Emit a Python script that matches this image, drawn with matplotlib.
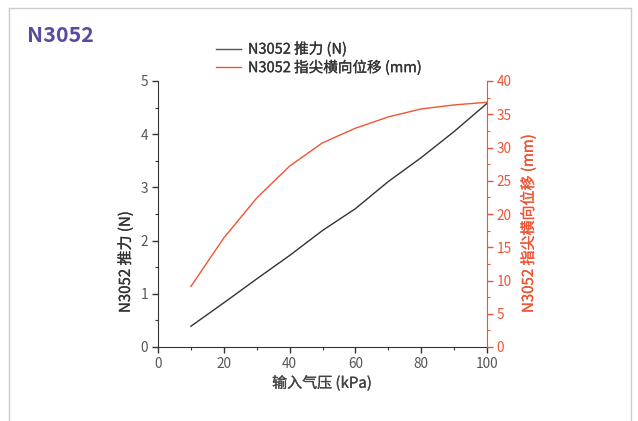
import matplotlib
matplotlib.use("Agg")
import matplotlib.pyplot as plt
import matplotlib.patheffects as pe
from matplotlib.lines import Line2D
from matplotlib.ticker import MultipleLocator

plt.rcParams['font.family'] = ['Noto Sans CJK SC', 'DejaVu Sans']

# 数据
pressure = [10, 20, 30, 40, 50, 60, 70, 80, 90, 100]
force_n = [0.39, 0.83, 1.28, 1.72, 2.19, 2.60, 3.11, 3.56, 4.05, 4.58]
disp_mm = [9.1, 16.4, 22.4, 27.2, 30.7, 32.9, 34.6, 35.8, 36.4, 36.8]

BLACK = "#333333"
RED = "#ee5535"
GRAY_TXT = "#555555"
PURPLE = "#5b4a9e"


def medium(color):
    # 模拟 Medium 字重：给常规字形加一圈细描边
    return [pe.withStroke(linewidth=0.2, foreground=color)]


fig = plt.figure(figsize=(6.38, 4.21), dpi=100)
fig.patch.set_facecolor("white")

# 外框
for xs, ys in [([9/638, 9/638], [0, 1 - 8/421]),
               ([9/638, 631/638], [1 - 8/421, 1 - 8/421]),
               ([631/638, 631/638], [1 - 8/421, 0])]:
    fig.add_artist(Line2D(xs, ys, color="#cccccc", linewidth=1.0,
                          transform=fig.transFigure))

ax = fig.add_axes([158/638, 1 - 347/421, (487 - 158)/638, (347 - 81)/421])
ax2 = ax.twinx()

l1, = ax.plot(pressure, force_n, color=BLACK, linewidth=1.0, label="N3052 推力 (N)")
l2, = ax2.plot(pressure, disp_mm, color=RED, linewidth=1.0, label="N3052 指尖横向位移 (mm)")

ax.set_xlim(0, 100)
ax.set_ylim(0, 5)
ax2.set_ylim(0, 40)

ax.xaxis.set_major_locator(MultipleLocator(20))
ax.xaxis.set_minor_locator(MultipleLocator(10))
ax.yaxis.set_major_locator(MultipleLocator(1))
ax.yaxis.set_minor_locator(MultipleLocator(0.5))
ax2.yaxis.set_major_locator(MultipleLocator(5))
ax2.yaxis.set_minor_locator(MultipleLocator(2.5))

for a in (ax, ax2):
    a.spines["top"].set_visible(False)
    a.set_facecolor("none")
ax.spines["right"].set_visible(False)
ax2.spines["left"].set_visible(False)
ax2.spines["bottom"].set_visible(False)
ax.spines["left"].set_color(BLACK)
ax.spines["bottom"].set_color(BLACK)
ax2.spines["right"].set_color(RED)

ax.tick_params(axis="both", which="major", direction="out", length=4, width=1,
               color=BLACK, labelcolor=GRAY_TXT, labelsize=9.8, pad=3)
ax.tick_params(axis="both", which="minor", direction="out", length=2.5, width=0.8,
               color=BLACK)
ax2.tick_params(axis="y", which="major", direction="out", length=4, width=1,
                color=RED, labelcolor=RED, labelsize=9.8, pad=3)
ax2.tick_params(axis="y", which="minor", direction="out", length=2.5, width=0.8,
                color=RED)

# 轴标题
fig.text(322/638, 1 - 383/421, "输入气压 (kPa)", color="#444444", fontsize=10.8,
         ha="center", va="center", path_effects=medium("#444444"))
fig.text(125/638, 1 - 313/421, "N3052 推力 (N)", color="#333333", fontsize=10.8,
         rotation=90, ha="center", va="bottom", path_effects=medium("#333333"))
fig.text(528/638, 1 - 313/421, "N3052 指尖横向位移 (mm)", color=RED, fontsize=10.8,
         rotation=90, ha="center", va="bottom", path_effects=medium(RED))

fig.text(27/638, 1 - 36/421, "N3052", color=PURPLE, fontsize=15.5,
         fontweight="bold", ha="left", va="center")

leg = fig.legend(handles=[l1, l2], loc="upper left",
                 bbox_to_anchor=(210/638, 1 - 36/421), frameon=False,
                 labelcolor="#333333", handlelength=1.7,
                 handletextpad=0.5, labelspacing=0.2, borderaxespad=0,
                 prop={"size": 10.5})
leg.legend_handles[0].set_color("#555555")
for t in leg.get_texts():
    t.set_path_effects(medium("#333333"))

fig.savefig("out.png", dpi=100, facecolor="white")
